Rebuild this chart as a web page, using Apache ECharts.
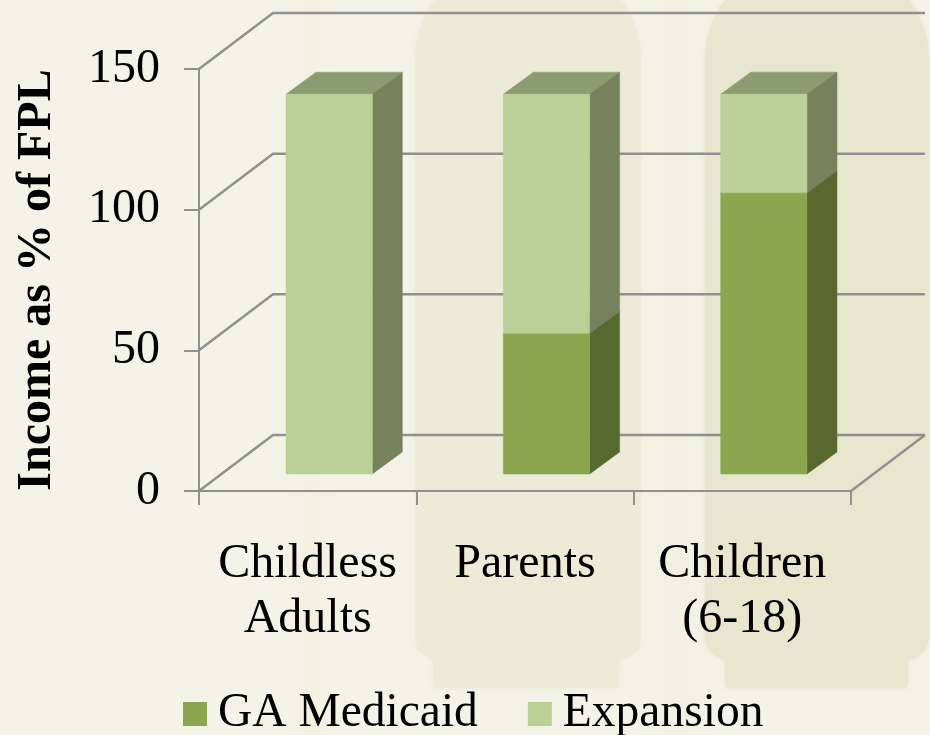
<!DOCTYPE html>
<html><head><meta charset="utf-8">
<style>html,body{margin:0;padding:0;background:#f3f4e7}#c{width:930px;height:735px}</style>
<script src="https://cdn.jsdelivr.net/npm/echarts@6/dist/echarts.min.js"></script>
</head><body><div id="c"></div>
<script>
const categories = ['Childless\nAdults', 'Parents', 'Children\n(6-18)'];
const gaMedicaid = [0, 50, 100];
const expansion = [135, 85, 35];
const yTicks = [0, 50, 100, 150];
const serif = '"Liberation Serif","Times New Roman",serif';
const wallDX = 74, wallDY = -56, floorDX = 21.5, floorDY = -17, depthDX = 30, depthDY = -22, barFrac = 0.397;
const gridColor = '#909090';

function bar(front, side, top) {
  return (params, api) => {
    const i = api.value(0), lo = api.value(1), hi = api.value(2);
    if (hi <= lo) return {type: 'group', children: []};
    const a = api.coord([i, lo]), b = api.coord([i, hi]);
    const w = api.size([1, 0])[0] * barFrac;
    const x0 = a[0] - w / 2 + floorDX, x1 = a[0] + w / 2 + floorDX;
    const y0 = a[1] + floorDY, y1 = b[1] + floorDY;
    const poly = (pts, fill) => ({type: 'polygon', shape: {points: pts}, style: {fill: fill, stroke: fill, lineWidth: 0.5}});
    return {type: 'group', children: [
      poly([[x0, y1], [x1, y1], [x1 + depthDX, y1 + depthDY], [x0 + depthDX, y1 + depthDY]], top),
      poly([[x1, y0], [x1 + depthDX, y0 + depthDY], [x1 + depthDX, y1 + depthDY], [x1, y1]], side),
      poly([[x0, y0], [x1, y0], [x1, y1], [x0, y1]], front)
    ]};
  };
}
const gaData = categories.map((c, i) => [i, 0, gaMedicaid[i]]);
const expData = categories.map((c, i) => [i, gaMedicaid[i], gaMedicaid[i] + expansion[i]]);

const walls = (params, api) => {
  const v = api.value(1);
  const band = api.size([1, 0])[0];
  const first = api.coord([0, v]), last = api.coord([categories.length - 1, v]);
  const sx = first[0] - band / 2, ex = last[0] + band / 2, y = first[1];
  const kids = [{type: 'polyline', shape: {points: [[sx, y], [sx + wallDX, y + wallDY], [ex + wallDX, y + wallDY]]},
    style: {stroke: gridColor, lineWidth: 2.5, fill: null}}];
  if (v === 0) kids.push({type: 'line', shape: {x1: ex, y1: y, x2: ex + wallDX, y2: y + wallDY},
    style: {stroke: gridColor, lineWidth: 2.5}});
  return {type: 'group', children: kids};
};

const blob = (x, y, w, h, r, c) => ({type: 'rect', silent: true, z: -10,
  shape: {x: x, y: y, width: w, height: h, r: r}, style: {fill: c, shadowBlur: 4, shadowColor: c}});
const strip = (x, w, c, edge) => ({type: 'rect', silent: true, z: -11,
  shape: {x: x, y: 0, width: w, height: 735},
  style: {fill: {type: 'linear', x: 0, y: 0, x2: 1, y2: 0, colorStops: [
    {offset: 0, color: edge}, {offset: 0.5, color: c}, {offset: 1, color: edge}]}}});

const chart = echarts.init(document.getElementById('c'), null, {renderer: 'canvas'});
chart.setOption({
  animation: false,
  backgroundColor: '#f3f4e7',
  graphic: [
    strip(280, 60, '#f3f0e1', '#f3f4e7'),
    strip(630, 90, '#f0f1e2', '#f3f4e7'),
    blob(415, -40, 226, 700, [100, 100, 24, 24], '#ecebd8'),
    blob(433, 640, 186, 48, [0, 0, 4, 4], '#ecebd8'),
    blob(705, -40, 224, 700, [100, 100, 24, 24], '#e7e6ce'),
    blob(725, 640, 183, 48, [0, 0, 4, 4], '#e7e6ce')
  ],
  grid: {left: 199, right: 79, top: 69, bottom: 244},
  legend: {
    left: 178, top: 685, itemWidth: 24, itemHeight: 24, itemGap: 50, icon: 'rect',
    data: ['GA Medicaid', 'Expansion'],
    textStyle: {fontFamily: serif, fontSize: 47.5, color: '#000', padding: [0, 0, 0, 6]}
  },
  xAxis: {
    type: 'category', data: categories, boundaryGap: true,
    axisLine: {onZero: false, lineStyle: {color: gridColor, width: 2}},
    axisTick: {show: true, alignWithLabel: false, length: 14, lineStyle: {color: gridColor, width: 2}},
    axisLabel: {fontFamily: serif, fontSize: 48, color: '#000', margin: 46, lineHeight: 55, interval: 0},
    splitLine: {show: false}
  },
  yAxis: {
    type: 'value', min: 0, max: 150, interval: 50,
    name: 'Income as % of FPL', nameLocation: 'middle', nameRotate: 90, nameGap: 137,
    nameTextStyle: {fontFamily: serif, fontSize: 48, fontWeight: 'bold', color: '#000'},
    axisLine: {show: true, lineStyle: {color: gridColor, width: 2}},
    axisTick: {show: true, length: 15, lineStyle: {color: gridColor, width: 2}},
    axisLabel: {fontFamily: serif, fontSize: 48, color: '#000', margin: 39, padding: [6, 0, 0, 0]},
    splitLine: {show: false}
  },
  series: [
    {type: 'custom', name: 'walls', coordinateSystem: 'cartesian2d', data: yTicks.map(v => [0, v]), encode: {x: 0, y: 1}, renderItem: walls, silent: true, z: 1, clip: false},
    {type: 'custom', name: 'GA Medicaid', coordinateSystem: 'cartesian2d', data: gaData, encode: {x: 0, y: [1, 2]},
      itemStyle: {color: '#8aa64f'}, renderItem: bar('#8aa64f', '#58692f', '#6f8440'), z: 2, clip: false},
    {type: 'custom', name: 'Expansion', coordinateSystem: 'cartesian2d', data: expData, encode: {x: 0, y: [1, 2]},
      itemStyle: {color: '#bad096'}, renderItem: bar('#bad096', '#76815d', '#8d9b70'), z: 3, clip: false}
  ]
});
</script></body></html>
